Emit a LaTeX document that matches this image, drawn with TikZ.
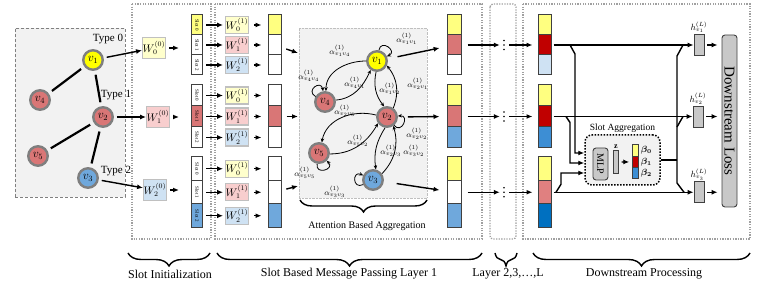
\documentclass[tikz,border=0pt]{standalone}
\usepackage{amsmath,amssymb}
\usepackage{graphicx}
\usepackage{fontspec}
\setmainfont{Liberation Serif}
\usetikzlibrary{arrows.meta,positioning,calc,decorations.pathreplacing}

\definecolor{nyel}{HTML}{FFFF00}
\definecolor{slyel}{HTML}{FFFF80}
\definecolor{nred}{HTML}{D97676}
\definecolor{nblu}{HTML}{6FA8DC}
\definecolor{ngray}{HTML}{7F7F7F}
\definecolor{panel}{HTML}{F2F2F2}
\definecolor{wyel}{HTML}{FFFFCC}
\definecolor{wred}{HTML}{F8CECE}
\definecolor{wblu}{HTML}{CFE2F3}
\definecolor{wline}{HTML}{C0C0C0}
\definecolor{dred}{HTML}{C00000}
\definecolor{pred}{HTML}{E08080}
\definecolor{mblu}{HTML}{3D8ED4}
\definecolor{dblu}{HTML}{0070C0}
\definecolor{boxgray}{HTML}{A0A0A0}
\definecolor{fillgray}{HTML}{C8C8C8}

% three stacked cells: name, x, top, cell height, width, fills
\newcommand{\stack}[8]{%
  \node[cell,minimum width=#5pt,minimum height=#4pt,fill=#6] (#1-0) at (#2,#3+0.5*#4) {};
  \node[cell,minimum width=#5pt,minimum height=#4pt,fill=#7] (#1-1) at (#2,#3+1.5*#4) {};
  \node[cell,minimum width=#5pt,minimum height=#4pt,fill=#8] (#1-2) at (#2,#3+2.5*#4) {};
}

\begin{document}
\begin{tikzpicture}[x=1pt,y=-1pt,
		vnode/.style={circle,draw=ngray,line width=2.4pt,minimum size=19.5pt,inner sep=0pt,font=\large},
		wbox/.style={draw=wline,line width=1.3pt,minimum width=20pt,minimum height=19pt,inner sep=0pt,font=\fontsize{10.5}{12}\selectfont},
		cell/.style={draw=black!75,line width=1pt,inner sep=0pt},
		gbox/.style={draw=black!75,fill=fillgray,line width=0.9pt,inner sep=0pt},
		arr/.style={-{Latex[length=6pt,width=5pt]},line width=1.4pt},
		wire/.style={line width=1.4pt},
		gedge/.style={line width=2.2pt,shorten <=4pt,shorten >=4pt},
		att/.style={-{Stealth[length=4pt,width=3.5pt]},line width=0.8pt},
		alab/.style={font=\footnotesize,inner sep=0pt},
		dotbox/.style={draw=boxgray,line width=1.3pt,dash pattern=on 1.3pt off 1.3pt},
		brace/.style={decorate,decoration={brace,mirror,amplitude=13pt},line width=1.4pt},
		bottomlab/.style={font=\fontsize{12}{14}\selectfont},
		typelab/.style={font=\fontsize{11}{13}\selectfont,inner sep=0pt}
		]
		
		\useasboundingbox (0,0) rectangle (764,288);
		
		% frames
		\draw[dotbox] (132,4) rectangle (211,239);
		\draw[dotbox] (215,4) rectangle (482,239);
		\draw[dotbox,rounded corners=3pt] (490,4) rectangle (516,239);
		\draw[dotbox] (523,4) rectangle (750,239);
		
		% input graph
		\node[draw=gray,densely dashed,fill=panel,minimum width=110pt,minimum height=169pt] (gpanel) at (70,112.5) {};
		\node[vnode,fill=nyel] (a1) at (93,60) {$v_1$};
		\node[vnode,fill=nred] (a4) at (40,100) {$v_4$};
		\node[vnode,fill=nred] (a2) at (103,117) {$v_2$};
		\node[vnode,fill=nred] (a5) at (38,156) {$v_5$};
		\node[vnode,fill=nblu] (a3) at (88,178) {$v_3$};
		\draw[gedge] (a1)--(a4);
		\draw[gedge] (a1)--(a2);
		\draw[gedge] (a2)--(a5);
		\draw[gedge] (a2)--(a3);
		\node[typelab] (t0) at (108,39) {Type 0};
		\node[typelab] (t1) at (116,95) {Type 1};
		\node[typelab] (t2) at (116,171) {Type 2};
		
		% slot initialization
		\node[wbox,fill=wyel,minimum height=21pt] (w00) at (154,48) {$W_0^{(0)}$};
		\node[wbox,fill=wred,minimum height=21pt] (w10) at (158,117) {$W_1^{(0)}$};
		\node[wbox,fill=wblu,minimum height=21pt] (w20) at (155,190) {$W_2^{(0)}$};
		\draw[arr,shorten <=3pt] (a1)--(w00);
		\draw[arr,shorten <=3pt] (a2)--(w10);
		\draw[arr,shorten <=3pt] (a3)--(w20);
		
		\foreach \g/\yt/\h/\fc in {0/15/20/slyel,1/85/21/nred,2/157/23.5/nblu}{
			\foreach \s in {0,1,2}{
				\ifnum\s=\g \def\cf{\fc}\else\def\cf{white}\fi
				\node[cell,fill=\cf,minimum width=11pt,minimum height=\h*1pt,font=\fontsize{5}{5}\selectfont] (s\g-\s) at (197,\yt+\h*\s+\h/2) {\rotatebox{-90}{Slot \s}};
			}
		}
		\draw[arr,shorten <=3pt,shorten >=12pt] (w00)--(w00 -| s0-1.west);
		\draw[arr,shorten <=3pt,shorten >=12pt] (w10)--(w10 -| s1-1.west);
		\draw[arr,shorten <=3pt,shorten >=12pt] (w20)--(w20 -| s2-1.west);
		
		% layer 1: per slot transforms
		\stack{p0}{274.5}{15}{20}{13}{slyel}{white}{white}
		\stack{p1}{274.5}{85}{21}{13}{white}{nred}{white}
		\stack{p2}{274.5}{157}{23.5}{13}{white}{white}{nblu}
		\foreach \g/\yt/\h in {0/15/20,1/85/21,2/157/23.5}{
			\foreach \s/\wf in {0/wyel,1/wred,2/wblu}{
				\node[wbox,fill=\wf,minimum height=17pt] (u\g-\s) at (237,\yt+\h*\s+\h/2) {$W_{\s}^{(1)}$};
				\draw[arr,shorten <=3pt,shorten >=2pt] (s\g-\s)--(u\g-\s);
				\draw[arr,shorten <=5pt,shorten >=6pt] (u\g-\s)--(p\g-\s);
			}
		}
		
		% attention based aggregation
		\node[draw=gray!50,densely dotted,fill=panel,minimum width=128pt,minimum height=170pt,inner sep=0pt] (attn) at (363,113) {};
		\coordinate (in0) at (298,53);
		\coordinate (in1) at (298,116.5);
		\coordinate (in2) at (298,186);
		\draw[arr,shorten <=5pt] (p0-1)--(in0);
		\draw[arr,shorten <=5pt] (p1-1)--(in1);
		\draw[arr,shorten <=5pt] (p2-1)--(in2);
		
		\node[vnode,fill=nyel] (b1) at (377,61) {$v_1$};
		\node[vnode,fill=nred] (b4) at (325,102) {$v_4$};
		\node[vnode,fill=nred] (b2) at (387,117) {$v_2$};
		\node[vnode,fill=nred] (b5) at (319,153) {$v_5$};
		\node[vnode,fill=nblu] (b3) at (373,180) {$v_3$};
		
		\draw[att] (b1.180) to[out=180,in=90] (b4.85);
		\draw[att] (b4.10) to[out=5,in=-115] (b1.-125);
		\draw[att] (b1.-95) to[bend right=25] (b2.105);
		\draw[att] (b2.55) to[bend right=30] (b1.-25);
		\draw[att] (b2.170) to[out=165,in=80] (b5.75);
		\draw[att] (b5.-5) to[out=0,in=-120] (b2.-145);
		\draw[att] (b2.-100) to[bend right=20] (b3.75);
		\draw[att] (b3.35) to[bend right=30] (b2.-55);
		% self loops
		\draw[att] (b1.80) to[out=80,in=25,distance=12pt] (b1.25);
		\draw[att] (b4.150) to[out=150,in=100,distance=12pt] (b4.100);
		\draw[att] (b2.-50) to[out=-50,in=5,distance=12pt] (b2.5);
		\draw[att] (b5.-100) to[out=-100,in=-45,distance=12pt] (b5.-45);
		\draw[att] (b3.205) to[out=205,in=155,distance=12pt] (b3.155);
		
		\node[alab] (l14) at (340,51) {$\alpha^{(1)}_{v_1v_4}$};
		\node[alab] (l41) at (355,83) {$\alpha^{(1)}_{v_4v_1}$};
		\node[alab] (l44) at (309,76) {$\alpha^{(1)}_{v_4v_4}$};
		\node[alab] (l11) at (407,39) {$\alpha^{(1)}_{v_1v_1}$};
		\node[alab] (l12) at (390,89) {$\alpha^{(1)}_{v_1v_2}$};
		\node[alab] (l21) at (418,84) {$\alpha^{(1)}_{v_2v_1}$};
		\node[alab] (l25) at (345,111) {$\alpha^{(1)}_{v_2v_5}$};
		\node[alab] (l52) at (358,141) {$\alpha^{(1)}_{v_5v_2}$};
		\node[alab] (l55) at (305,173) {$\alpha^{(1)}_{v_5v_5}$};
		\node[alab] (l23) at (391,151) {$\alpha^{(1)}_{v_2v_3}$};
		\node[alab] (l32) at (414,151) {$\alpha^{(1)}_{v_3v_2}$};
		\node[alab] (l22) at (417,134) {$\alpha^{(1)}_{v_2v_2}$};
		\node[alab] (l33) at (335,192) {$\alpha^{(1)}_{v_3v_3}$};
		
		\draw[brace,decoration={amplitude=12pt}] (300,200)--(427,200);
		\node (attl) at (367,226) {Attention Based Aggregation};
		
		% layer 1 output
		\stack{q0}{454}{15}{20}{14}{slyel}{nred}{white}
		\stack{q1}{454}{85}{21}{14}{slyel}{nred}{nblu}
		\stack{q2}{454}{157}{23.5}{14}{slyel}{white}{nblu}
		\draw[arr,shorten <=10pt,shorten >=7pt] (b1)--(q0-1);
		\draw[arr,shorten <=10pt,shorten >=7pt] (b2)--(q1-1);
		\draw[arr,shorten <=13pt,shorten >=7pt] (b3)--(q2-1);
		
		% layers 2..L and downstream
		\stack{r0}{544.5}{15}{20}{13}{slyel}{dred}{wblu}
		\stack{r1}{544.5}{85}{21}{13}{slyel}{dred}{mblu}
		\stack{r2}{544.5}{157}{23.5}{13}{slyel}{pred}{dblu}
		\foreach \g in {0,1,2}{
			\node[inner sep=0pt,minimum width=8pt,minimum height=12pt] (dd\g) at (q\g-1 -| 504,0) {};
			\fill ([yshift=4.5pt]dd\g.center) circle (0.9pt) (dd\g.center) circle (0.9pt) ([yshift=-4.5pt]dd\g.center) circle (0.9pt);
			\draw[arr,shorten <=6pt] (q\g-1)--(dd\g);
			\draw[arr,shorten <=1pt,shorten >=5pt] (dd\g)--(r\g-1);
		}
		
		\node[gbox,minimum width=10pt,minimum height=21pt,label={[font=\small,inner sep=1pt]above:$h^{(L)}_{v_1}$}] (h1) at (699,45) {};
		\node[gbox,minimum width=10pt,minimum height=21pt,label={[font=\small,inner sep=1pt]above:$h^{(L)}_{v_2}$}] (h2) at (698,116.5) {};
		\node[gbox,minimum width=10pt,minimum height=21pt,label={[font=\small,inner sep=1pt]above:$h^{(L)}_{v_3}$}] (h3) at (699,192.25) {};
		\node[gbox,rounded corners=3pt,minimum width=15pt,minimum height=172pt,font=\fontsize{15}{15}\selectfont] (loss) at (729.5,121) {\rotatebox{-90}{Downstream Loss}};
		\draw[arr,shorten <=2pt] (r0-1)--(h1);
		\draw[arr,shorten <=2pt] (r1-1)--(h2);
		\draw[arr,shorten <=2pt] (r2-1)--(h3);
		\draw[arr,shorten <=3pt,shorten >=4pt] (h1)--(h1 -| loss.west);
		\draw[arr,shorten <=3pt,shorten >=4pt] (h2)--(h2 -| loss.west);
		\draw[arr,shorten <=3pt,shorten >=4pt] (h3)--(h3 -| loss.west);
		
		% slot aggregation
		\node[draw=black,line width=1.5pt,dash pattern=on 1.5pt off 1.5pt,rounded corners=7pt,fill=panel,minimum width=75pt,minimum height=50pt] (sagg) at (622.5,160) {};
		\node[font=\fontsize{9.5}{11}\selectfont,above=-2pt of sagg] (saggl) {Slot Aggregation};
		\node[gbox,rounded corners=3pt,minimum width=15pt,minimum height=32pt,font=\normalsize] (mlp) at (600.5,164) {\rotatebox{-90}{MLP}};
		\node[gbox,minimum width=4.5pt,minimum height=23pt] (zv) at (616,162) {};
		\node[font=\footnotesize\bfseries,above=0pt of zv,inner sep=1pt] (zl) {z};
		\stack{be}{635.5}{145}{11.3}{5.5}{slyel}{dred}{mblu}
		\node[font=\small,right=2pt of be-0,inner sep=0pt] (bt0) {$\boldsymbol{\beta_0}$};
		\node[font=\small,right=2pt of be-1,inner sep=0pt] (bt1) {$\boldsymbol{\beta_1}$};
		\node[font=\small,right=2pt of be-2,inner sep=0pt] (bt2) {$\boldsymbol{\beta_2}$};
		\draw[arr,shorten <=3pt,shorten >=3pt] (zv)--(be-1);
		
		\coordinate (j0) at (570,45);
		\coordinate (j1) at (566,116.5);
		\coordinate (j2) at (556,192.25);
		\draw[arr] (j0) -- ++(5,9) |- ([yshift=7pt]sagg.west);
		\draw[arr] (j1) -- ++(4,6) |- ([yshift=-3pt]sagg.west);
		\draw[arr] (j2) -- ++(5,-8) |- ([yshift=-13pt]sagg.west);
		
		\coordinate (k0) at (683,45);
		\coordinate (k1) at (683,116.5);
		\coordinate (k2) at (684,192.25);
		\coordinate (sx) at (677,160);
		\draw[wire] (sagg.east)--(sx);
		\draw[wire] (k0) -- (677,56) -- (677,183) -- (k2);
		\draw[wire] (677,127) -- (k1);
		
		% bottom braces
		\draw[brace] (128,253)--(210,253);
		\node[bottomlab] (c1) at (170,274) {Slot Initialization};
		\draw[brace] (217,253)--(482,253);
		\node[bottomlab] (c2) at (349,274) {Slot Based Message Passing Layer 1};
		\draw[brace] (495,253)--(517,253);
		\node[bottomlab] (c3) at (508,274) {Layer 2,3,…,L};
		\draw[brace] (533,253)--(750,253);
		\node[bottomlab] (c4) at (644,274) {Downstream Processing};
		
	\end{tikzpicture}
\end{document}
